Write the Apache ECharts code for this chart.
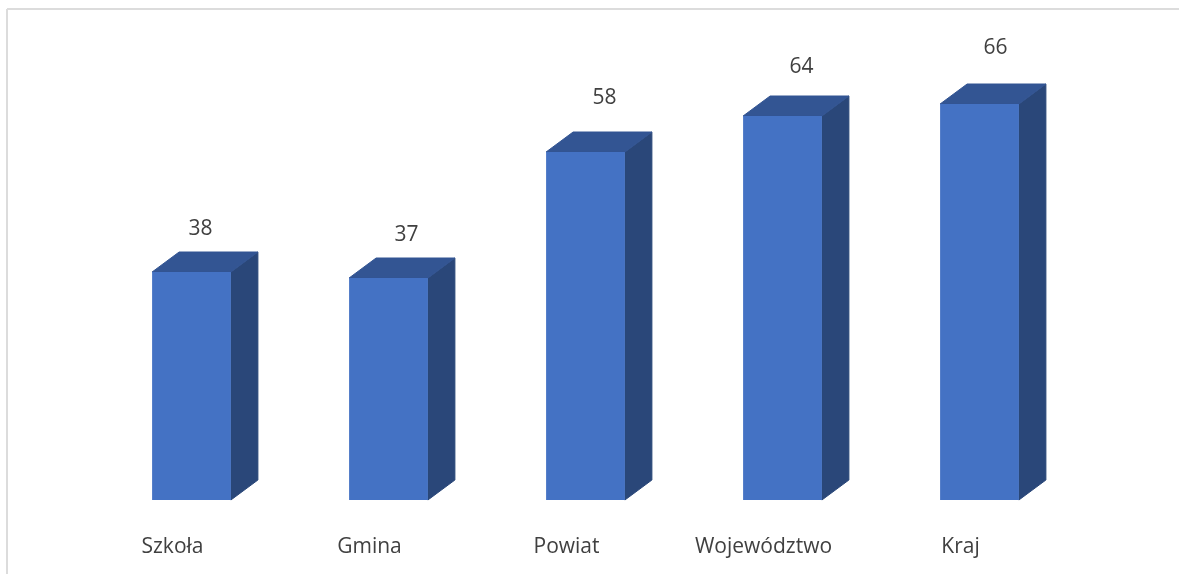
<!DOCTYPE html>
<html>
<head>
<meta charset="utf-8">
<style>
  html, body { margin: 0; padding: 0; background: #fff; }
  #chart { width: 1179px; height: 574px; }
</style>
</head>
<body>
<div id="chart"></div>
<script src="https://cdn.jsdelivr.net/npm/echarts@6/dist/echarts.min.js"></script>
<script>
const categories = ["Szkoła", "Gmina", "Powiat", "Województwo", "Kraj"];
const values = [38, 37, 58, 64, 66];

// hand placed labels in the original, so nudges per bar
const labelDx = [9, 18, 19, 19, 16];
const labelDy = [-43, -43, -54, -49, -56];

const DEPTH_X = 27;
const DEPTH_Y = 20;
const FONT = '"Open Sans", sans-serif';

function renderBar(params, api) {
  const i = api.value(0);
  const top = api.coord([i, api.value(1)]);
  const base = api.coord([i, 0]);
  const w = api.size([1, 0])[0] * 0.4;
  const x0 = top[0] - w / 2;
  const x1 = top[0] + w / 2;
  const y0 = top[1];
  const y1 = base[1];
  return {
    type: "group",
    children: [
      {
        type: "polygon",
        shape: { points: [[x1, y0], [x1 + DEPTH_X, y0 - DEPTH_Y], [x1 + DEPTH_X, y1 - DEPTH_Y], [x1, y1]] },
        style: { fill: "#2a4779", stroke: "#2a4779", lineWidth: 1 },
      },
      {
        type: "polygon",
        shape: { points: [[x0, y0], [x0 + DEPTH_X, y0 - DEPTH_Y], [x1 + DEPTH_X, y0 - DEPTH_Y], [x1, y0]] },
        style: { fill: "#335593", stroke: "#335593", lineWidth: 1 },
      },
      {
        type: "rect",
        shape: { x: x0, y: y0, width: w, height: y1 - y0 },
        style: { fill: "#4472c4" },
      },
      {
        type: "text",
        style: {
          x: top[0] + labelDx[i],
          y: y0 + labelDy[i],
          text: String(api.value(1)),
          fill: "#404040",
          font: "21px " + FONT,
          align: "center",
          verticalAlign: "middle",
        },
      },
    ],
  };
}

const chart = echarts.init(document.getElementById("chart"));
chart.setOption({
  animation: false,
  backgroundColor: "#fff",
  grid: { left: 93, right: 101, top: 20, bottom: 74 },
  xAxis: {
    type: "category",
    data: categories,
    axisLine: { show: false },
    axisTick: { show: false },
    axisLabel: {
      color: "#404040",
      fontFamily: "Open Sans",
      fontSize: 21,
      margin: 37,
      padding: [0, 38, 0, 0],
    },
  },
  yAxis: { type: "value", min: 0, max: 80, show: false },
  series: [
    {
      type: "custom",
      renderItem: renderBar,
      encode: { x: 0, y: 1 },
      data: values.map((v, i) => [i, v]),
      clip: false,
    },
  ],
  graphic: [
    { type: "line", shape: { x1: 7, y1: 9, x2: 1179, y2: 9 }, style: { stroke: "#dcdcdc", lineWidth: 2 } },
    { type: "line", shape: { x1: 7, y1: 9, x2: 7, y2: 574 }, style: { stroke: "#dcdcdc", lineWidth: 2 } },
  ],
});
</script>
</body>
</html>
